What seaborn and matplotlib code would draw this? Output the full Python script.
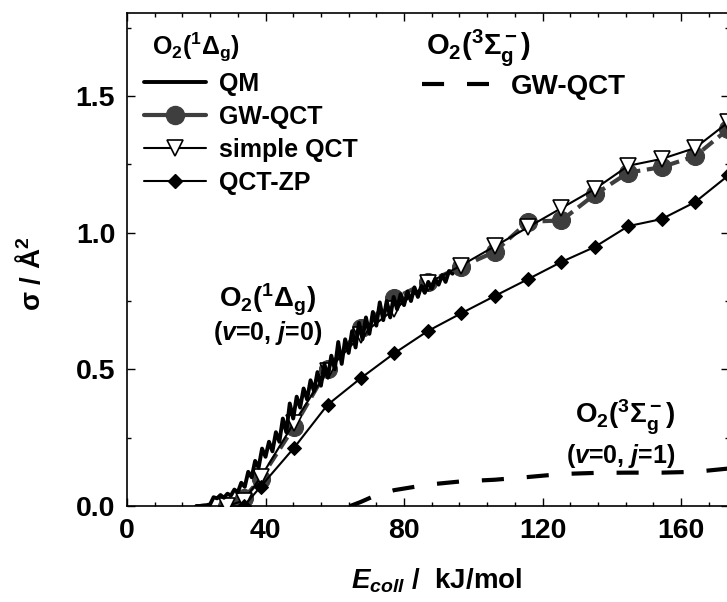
import matplotlib
matplotlib.use("Agg")
import matplotlib.pyplot as plt
from matplotlib.lines import Line2D
from matplotlib.ticker import MultipleLocator
import seaborn as sns

# ---------------- data ----------------
E_grid = [28.95, 33.8, 38.6, 48.25, 57.9, 67.55, 77.2, 86.85, 96.5, 106.15,
          115.8, 125.45, 135.1, 144.75, 154.4, 164.05, 173.7]
gw_qct = [0.0, 0.03, 0.10, 0.29, 0.50, 0.65, 0.76, 0.82, 0.875, 0.93,
          1.04, 1.045, 1.14, 1.22, 1.24, 1.28, 1.38]
simple_qct = [0.0, 0.02, 0.105, 0.305, 0.495, 0.625, 0.72, 0.815, 0.88, 0.95,
              1.02, 1.09, 1.16, 1.245, 1.27, 1.31, 1.405]

E_zp = [33.8, 38.6, 48.25, 57.9, 67.55, 77.2, 86.85, 96.5, 106.15, 115.8,
        125.45, 135.1, 144.75, 154.4, 164.05, 173.7]
qct_zp = [0.0, 0.071, 0.213, 0.370, 0.468, 0.559, 0.640, 0.705, 0.768, 0.830,
          0.893, 0.948, 1.024, 1.05, 1.112, 1.21]

E_qm = [20, 21, 22, 23, 24, 25, 26, 27, 28, 29, 30, 31, 32, 33, 34, 35, 36, 37,
        38, 39, 40, 41, 42, 43, 44, 45, 46, 47, 48, 49, 50, 51, 52, 53, 54, 55,
        56, 57, 58, 59, 60, 61, 62, 63, 64, 65, 66, 67, 68, 69, 70, 71, 72, 73,
        74, 75, 76, 77, 78, 79, 80, 81, 82, 83, 84, 85, 86, 87, 88, 89, 90, 91,
        92, 93, 94]
qm = [0.0, 0.0, 0.002, 0.003, 0.006, 0.032, 0.028, 0.04, 0.03, 0.045, 0.038,
      0.06, 0.05, 0.085, 0.07, 0.125, 0.105, 0.165, 0.14, 0.21, 0.18, 0.235,
      0.2, 0.27, 0.235, 0.32, 0.27, 0.375, 0.32, 0.40, 0.36, 0.43, 0.39, 0.46,
      0.42, 0.49, 0.44, 0.52, 0.47, 0.55, 0.50, 0.60, 0.52, 0.61, 0.56, 0.64,
      0.58, 0.67, 0.61, 0.69, 0.63, 0.71, 0.66, 0.745, 0.68, 0.75, 0.69, 0.765,
      0.72, 0.775, 0.735, 0.785, 0.75, 0.80, 0.765, 0.805, 0.78, 0.82, 0.795,
      0.83, 0.81, 0.845, 0.82, 0.86, 0.85]

E_sigma = [64.5, 67.55, 72.0, 77.2, 86.85, 96.5, 106.15, 115.8, 125.45, 135.1,
           144.75, 154.4, 164.05, 173.7]
gw_qct_sigma = [0.0, 0.015, 0.04, 0.058, 0.078, 0.09, 0.096, 0.106, 0.117,
                0.121, 0.122, 0.122, 0.125, 0.137]

x_ticks = [0, 40, 80, 120, 160]
y_ticks = [0.0, 0.5, 1.0, 1.5]
labels_1 = ["QM", "GW-QCT", "simple QCT", "QCT-ZP"]
labels_2 = ["GW-QCT"]

# ---------------- style ----------------
sns.set_theme(style="ticks")
plt.rcParams["font.family"] = ["Liberation Sans", "DejaVu Sans"]
plt.rcParams["font.weight"] = "bold"
plt.rcParams["mathtext.fontset"] = "custom"
plt.rcParams["mathtext.rm"] = "Liberation Sans:bold"
plt.rcParams["mathtext.bf"] = "Liberation Sans:bold"
plt.rcParams["mathtext.it"] = "Liberation Sans:bold:italic"
plt.rcParams["mathtext.default"] = "rm"
for k in ["text.color", "axes.labelcolor", "xtick.color", "ytick.color",
          "axes.edgecolor"]:
    plt.rcParams[k] = "black"

fig = plt.figure(figsize=(7.27, 6.02), dpi=100)
ax = fig.add_axes([0.1747, 0.1595, 0.8283, 0.8189])

GREY = "#3e3e3e"
DASH = (0, (5.3, 5.5))

sns.lineplot(x=E_grid, y=gw_qct, ax=ax, estimator=None, color=GREY,
             linewidth=3.0, linestyle=(0, (3.2, 1.6)), marker="o",
             markersize=13, markerfacecolor=GREY, markeredgecolor=GREY, zorder=2)
sns.lineplot(x=E_grid, y=simple_qct, ax=ax, estimator=None, color="black",
             linewidth=1.5, marker="v", markersize=11, markerfacecolor="white",
             markeredgecolor="black", markeredgewidth=1.2, zorder=3)
sns.lineplot(x=E_zp, y=qct_zp, ax=ax, estimator=None, color="black",
             linewidth=1.5, marker="D", markersize=7, markerfacecolor="black",
             markeredgecolor="black", zorder=4)
sns.lineplot(x=E_qm, y=qm, ax=ax, estimator=None, color="black",
             linewidth=2.8, zorder=5)
sns.lineplot(x=E_sigma, y=gw_qct_sigma, ax=ax, estimator=None, color="black",
             linewidth=3.0, linestyle=DASH, zorder=4)

ax.set_xlim(0, 173.9)
ax.set_ylim(0, 1.804)
ax.set_xticks(x_ticks)
ax.set_yticks(y_ticks)
ax.set_xticklabels([f"{t:d}" for t in x_ticks])
ax.set_yticklabels([f"{t:.1f}" for t in y_ticks])
ax.xaxis.set_minor_locator(MultipleLocator(8))
ax.yaxis.set_minor_locator(MultipleLocator(0.25))
ax.tick_params(which="both", direction="in", top=True, right=True,
               width=1.0, labelsize=20.5, pad=8.5)
ax.tick_params(which="major", length=5.5)
ax.tick_params(which="minor", length=3)
for s in ax.spines.values():
    s.set_linewidth(1.2)

ax.set_xlabel(r"$\mathit{E}_{\mathit{coll}}$ /  kJ/mol", fontsize=20,
              fontweight="bold")
ax.xaxis.set_label_coords(0.515, -0.123)
ax.set_ylabel("σ / Å$^2$", fontsize=20, fontweight="bold")
ax.yaxis.set_label_coords(-0.135, 0.47)

# annotations
ax.text(40.6, 0.726, "O$_2$($^1$Δ$_g$)", ha="center", va="baseline", fontsize=20)
ax.text(40.6, 0.606, r"($\mathit{v}$=0, $\mathit{j}$=0)", ha="center",
        va="baseline", fontsize=18)
ax.text(143.8, 0.303, "O$_2$($^3$Σ$_g^-$)", ha="center", va="baseline", fontsize=20)
ax.text(142.4, 0.158, r"($\mathit{v}$=0, $\mathit{j}$=1)", ha="center",
        va="baseline", fontsize=18)

# legend titles
ax.text(0.042, 0.915, "O$_2$($^1$Δ$_g$)", transform=ax.transAxes,
        ha="left", va="baseline", fontsize=18)
ax.text(0.497, 0.915, "O$_2$($^3$Σ$_g^-$)", transform=ax.transAxes,
        ha="left", va="baseline", fontsize=21)

# legends
h1 = [Line2D([], [], color="black", lw=2.8),
      Line2D([], [], color=GREY, lw=3.0, marker="o", markersize=13,
             markerfacecolor=GREY, markeredgecolor=GREY),
      Line2D([], [], color="black", lw=1.5, marker="v", markersize=11,
             markerfacecolor="white", markeredgecolor="black", markeredgewidth=1.2),
      Line2D([], [], color="black", lw=1.5, marker="D", markersize=7,
             markerfacecolor="black")]
leg1 = ax.legend(h1, labels_1, loc="upper left", bbox_to_anchor=(0.028, 0.881),
                 frameon=False, fontsize=18, handlelength=2.5,
                 handletextpad=0.52, labelspacing=0.36, borderpad=0.0,
                 borderaxespad=0.0, numpoints=1)
ax.add_artist(leg1)

h2 = [Line2D([], [], color="black", lw=3.0, linestyle=DASH)]
leg2 = ax.legend(h2, labels_2, loc="upper left", bbox_to_anchor=(0.49, 0.877),
                 frameon=False, fontsize=20, handlelength=2.4,
                 handletextpad=0.8, borderpad=0.0, borderaxespad=0.0)

fig.savefig("out.png", dpi=100)
